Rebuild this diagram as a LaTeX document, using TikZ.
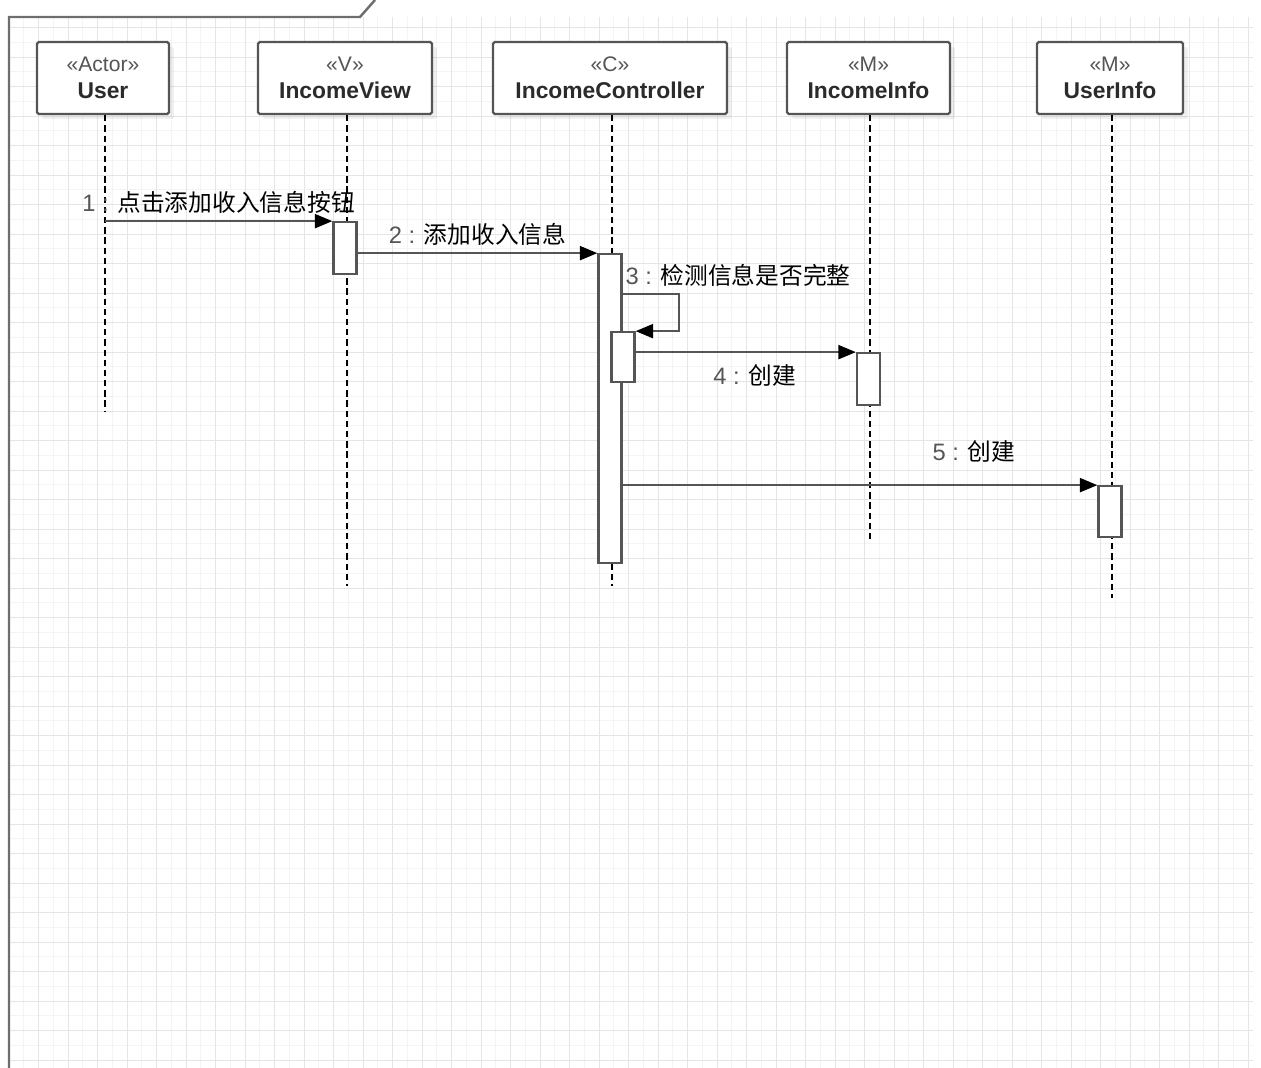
\documentclass[tikz,border=0pt]{standalone}
\usepackage{fontspec}
\setmainfont{Liberation Sans}
\newfontfamily\cjk{Noto Sans CJK SC}
\usetikzlibrary{arrows.meta,positioning,shadows,calc}

\definecolor{linegray}{HTML}{555555}
\definecolor{framegray}{HTML}{6E6E6E}
\definecolor{stereogray}{HTML}{555555}
\definecolor{namegray}{HTML}{2B2B2B}
\definecolor{gridmajor}{HTML}{E5E5E5}
\definecolor{gridminor}{HTML}{F4F4F4}

\tikzset{
  lifebox/.style={draw=linegray, line width=1.3pt, fill=white, rounded corners=1pt,
    align=center, inner sep=0pt, minimum height=1.44cm, text=namegray,
    font=\fontsize{13}{15.3}\selectfont,
    drop shadow={shadow xshift=0.1cm, shadow yshift=-0.1cm, opacity=0.12}},
  actbox/.style={draw=linegray, line width=1.3pt, fill=white, inner sep=0pt,
    minimum width=0.46cm, anchor=north},
  lifeline/.style={black, line width=0.9pt, dash pattern=on 3.6pt off 2.2pt},
  msg/.style={linegray, line width=1.3pt,
    -{Triangle[length=10pt, width=8pt, color=black]}},
  msglabel/.style={font=\fontsize{13.5}{16}\selectfont, text=black, inner sep=1pt},
}

\newcommand{\stereo}[1]{{\fontsize{12}{15.3}\selectfont\color{stereogray}«#1»}}
\newcommand{\msgnum}[1]{{\color{stereogray}#1 :} }

\begin{document}
\begin{tikzpicture}[x=0.02cm, y=-0.02cm]
    \useasboundingbox (0,0) rectangle (1261,1068);

    % Background grid (minor, then major)
    \foreach \i in {1,...,84}
        \draw[gridminor, line width=0.5pt] ({9+14.75*\i},17) -- ({9+14.75*\i},1068);
    \foreach \j in {0,...,70}
        \draw[gridminor, line width=0.5pt] (9,{27.5+14.75*\j}) -- (1253,{27.5+14.75*\j});
    \foreach \i in {1,...,42}
        \draw[gridmajor, line width=0.5pt] ({9+29.5*\i},17) -- ({9+29.5*\i},1068);
    \foreach \j in {0,...,35}
        \draw[gridmajor, line width=0.5pt] (9,{27.5+29.5*\j}) -- (1253,{27.5+29.5*\j});

    % Diagram frame
    \draw[framegray, line width=1.4pt] (9,1068) -- (9,17) -- (360,17) -- (375,0);

    % Lifeline heads
    \node (user) [lifebox, minimum width=2.64cm] at (103,78)
        {\stereo{Actor}\\\textbf{User}};
    \node (view) [lifebox, minimum width=3.48cm] at (345,78)
        {\stereo{V}\\\textbf{IncomeView}};
    \node (ctrl) [lifebox, minimum width=4.68cm] at (610,78)
        {\stereo{C}\\\textbf{IncomeController}};
    \node (incinfo) [lifebox, minimum width=3.26cm] at (868.5,78)
        {\stereo{M}\\\textbf{IncomeInfo}};
    \node (usrinfo) [lifebox, minimum width=2.92cm] at (1110,78)
        {\stereo{M}\\\textbf{UserInfo}};

    % Lifelines
    \draw[lifeline] ([xshift=1pt]user.south) -- ++(0,296);
    \draw[lifeline] ([xshift=1pt]view.south) -- ++(0,471);
    \draw[lifeline] ([xshift=1pt]ctrl.south) -- ++(0,471);
    \draw[lifeline] ([xshift=1pt]incinfo.south) -- ++(0,426);
    \draw[lifeline] ([xshift=1pt]usrinfo.south) -- ++(0,483);

    % Activation bars
    \path (view.south) ++(0,106) node (viewact) [actbox, minimum height=1.04cm] {};
    \path (ctrl.south) ++(0,138) node (ctrlact) [actbox, minimum height=6.18cm] {};
    \path (ctrl.south) ++(13,216) node (ctrlself) [actbox, minimum height=1cm] {};
    \path (incinfo.south) ++(0,237) node (incact) [actbox, minimum height=1.04cm] {};
    \path (usrinfo.south) ++(0,370) node (usract) [actbox, minimum height=1.02cm] {};

    % Messages
    \draw[msg] ([xshift=1pt]user.south |- viewact.north west) -- (viewact.north west)
        node[msglabel, midway, above=0.1cm] {\msgnum{1}{\cjk 点击添加收入信息按钮}};
    \draw[msg] (viewact.east |- ctrlact.north west) -- (ctrlact.north west)
        node[msglabel, midway, above=0.1cm] {\msgnum{2}{\cjk 添加收入信息}};
    \draw[msg] ($(ctrlact.north east)+(0,41)$)
        node[msglabel, above right=0.1cm and 0cm] {\msgnum{3}{\cjk 检测信息是否完整}}
        -| ($(ctrlself.north east)+(43,0)$) -- (ctrlself.north east);
    \draw[msg] (ctrlself.east |- incact.north west) -- (incact.north west)
        node[msglabel, pos=0.54, below=0.2cm] {\msgnum{4}{\cjk 创建}};
    \draw[msg] (ctrlact.east |- usract.north west) -- (usract.north west)
        node[msglabel, pos=0.74, above=0.4cm] {\msgnum{5}{\cjk 创建}};
\end{tikzpicture}
\end{document}
